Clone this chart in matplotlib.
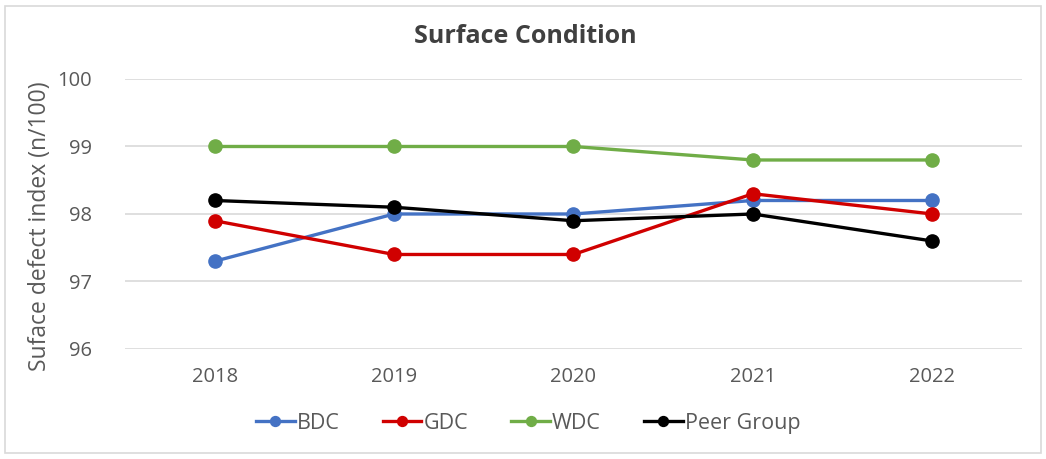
import matplotlib
matplotlib.use("Agg")
import matplotlib.pyplot as plt
from matplotlib.patches import Rectangle

years = ["2018", "2019", "2020", "2021", "2022"]
bdc = [97.3, 98.0, 98.0, 98.2, 98.2]
gdc = [97.9, 97.4, 97.4, 98.3, 98.0]
wdc = [99.0, 99.0, 99.0, 98.8, 98.8]
peer = [98.2, 98.1, 97.9, 98.0, 97.6]
series_names = ["BDC", "GDC", "WDC", "Peer Group"]
y_ticks = [96, 97, 98, 99, 100]

plt.rcParams["font.family"] = ["Open Sans", "DejaVu Sans"]
text_color = "#595959"

fig = plt.figure(figsize=(10.46, 4.59), dpi=100)
ax = fig.add_axes([0.1195, 0.2397, 0.8575, 0.5882])

colors = ["#4472C4", "#D00000", "#70AD47", "#000000"]
x = list(range(len(years)))
for name, vals, c in zip(series_names, [bdc, gdc, wdc, peer], colors):
    ax.plot(x, vals, color=c, lw=2.4, marker="o", markersize=9.5,
            label=name, solid_joinstyle="round")

ax.set_xlim(-0.5, len(years) - 0.5)
ax.set_ylim(96, 100)
ax.set_yticks(y_ticks)
ax.set_xticks(x)
ax.set_xticklabels(years)
ax.grid(axis="y", color="#D9D9D9", lw=1.2)
ax.set_axisbelow(True)
for s in ax.spines.values():
    s.set_visible(False)
ax.tick_params(axis="both", length=0, labelsize=14.5, labelcolor=text_color)
ax.tick_params(axis="y", pad=24)
ax.tick_params(axis="x", pad=13)
ax.set_ylabel("Suface defect index (n/100)", fontsize=16.5, color=text_color)
ax.yaxis.set_label_coords(-0.081, 0.455)

fig.text(0.502, 0.92, "Surface Condition", ha="center", va="center",
         fontsize=18, fontweight="bold", color="#404040")

fig.legend(loc="center", bbox_to_anchor=(0.505, 0.078), ncol=4, frameon=False,
           fontsize=15.5, labelcolor=text_color, handlelength=1.8, handletextpad=0.1,
           columnspacing=2.0, markerscale=0.75)

fig.patches.append(Rectangle((0.005, 0.012), 0.99, 0.976, transform=fig.transFigure,
                             fill=False, edgecolor="#D9D9D9", lw=1.2))

fig.savefig("out.png", dpi=100, facecolor="white")
